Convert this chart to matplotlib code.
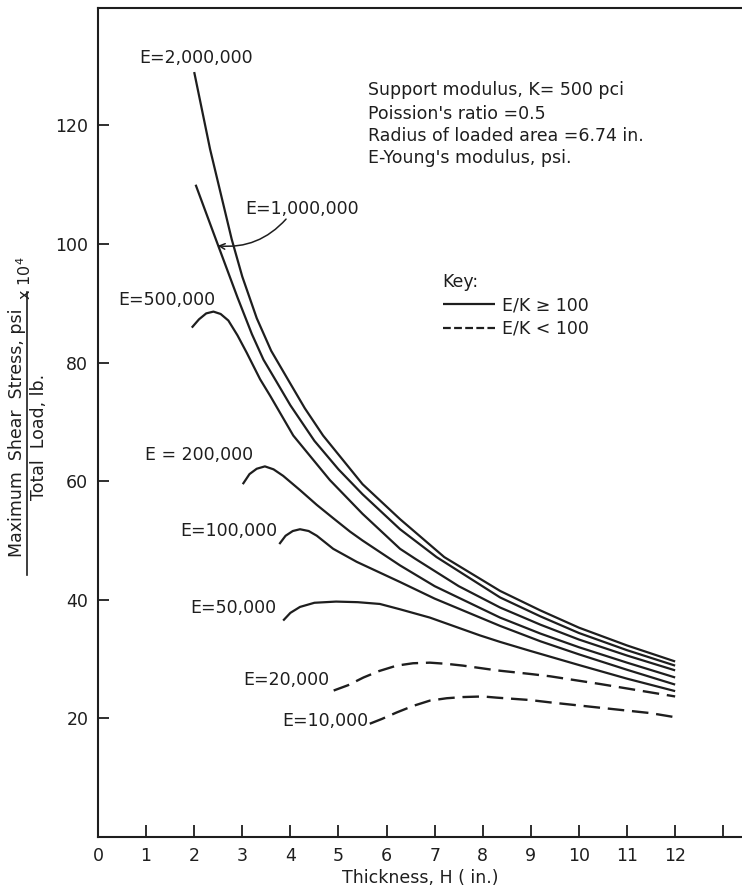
import matplotlib
matplotlib.use("Agg")
import matplotlib.pyplot as plt
from matplotlib.lines import Line2D

# ---------------- data ----------------
h_2m = [2.0, 2.33, 2.78, 3.0, 3.3, 3.6, 3.96, 4.3, 4.68, 5.5, 6.28, 7.2, 8.36, 9.2, 10.0, 11.0, 12.0]
s_2m = [129.0, 116.0, 100.8, 94.5, 87.5, 82.0, 77.0, 72.3, 67.7, 59.5, 53.6, 47.2, 41.5, 38.2, 35.3, 32.3, 29.6]

h_1m = [2.03, 2.45, 2.9, 3.2, 3.44, 3.71, 4.0, 4.5, 5.0, 5.5, 6.28, 7.04, 8.36, 9.2, 10.0, 11.0, 12.0]
s_1m = [110.0, 100.8, 91.0, 84.8, 80.5, 76.8, 72.8, 66.8, 62.0, 57.8, 51.9, 47.2, 40.4, 37.2, 34.4, 31.5, 28.9]

h_500k = [1.95, 2.1, 2.25, 2.4, 2.55, 2.71, 2.9, 3.09, 3.37, 3.58, 4.06, 4.82, 5.5, 6.28, 6.6, 7.5, 8.36, 9.2, 10.0, 11.0, 12.0]
s_500k = [85.9, 87.3, 88.3, 88.6, 88.2, 87.1, 84.6, 81.7, 77.2, 74.4, 67.7, 60.2, 54.5, 48.6, 46.9, 42.3, 38.7, 35.8, 33.3, 30.6, 28.1]

h_200k = [3.01, 3.15, 3.3, 3.47, 3.65, 3.85, 4.2, 4.55, 4.9, 5.24, 5.5, 6.28, 7.0, 8.36, 9.2, 10.0, 11.0, 12.0]
s_200k = [59.5, 61.2, 62.1, 62.5, 62.0, 60.9, 58.5, 56.0, 53.7, 51.5, 50.0, 45.8, 42.3, 37.0, 34.3, 32.0, 29.4, 26.9]

h_100k = [3.77, 3.9, 4.05, 4.2, 4.38, 4.55, 4.89, 5.38, 6.28, 7.0, 8.36, 9.2, 10.0, 11.0, 12.0]
s_100k = [49.4, 50.8, 51.6, 51.9, 51.6, 50.8, 48.6, 46.4, 43.0, 40.2, 35.6, 33.0, 30.8, 28.2, 25.7]

h_50k = [3.85, 4.0, 4.2, 4.5, 4.95, 5.4, 5.86, 6.28, 6.9, 7.94, 8.36, 8.98, 10.0, 11.0, 12.0]
s_50k = [36.5, 37.8, 38.8, 39.5, 39.7, 39.6, 39.3, 38.4, 37.0, 34.0, 32.9, 31.4, 29.0, 26.7, 24.6]

h_20k = [4.9, 5.2, 5.52, 5.85, 6.21, 6.55, 6.9, 7.25, 7.59, 8.29, 8.98, 9.4, 10.44, 11.48, 12.0]
s_20k = [24.7, 25.6, 26.9, 28.0, 28.9, 29.3, 29.4, 29.2, 28.9, 28.1, 27.5, 27.1, 25.8, 24.4, 23.7]

h_10k = [5.65, 5.9, 6.21, 6.55, 6.9, 7.25, 7.59, 8.0, 8.29, 8.98, 9.4, 10.44, 11.48, 12.0]
s_10k = [19.1, 19.9, 21.0, 22.1, 23.0, 23.4, 23.6, 23.7, 23.5, 23.1, 22.7, 21.8, 20.9, 20.2]

x_ticks = list(range(0, 14))
x_tick_labels = [str(v) for v in range(0, 13)] + [""]
y_ticks = [20, 40, 60, 80, 100, 120]

curve_labels = ["E=2,000,000", "E=1,000,000", "E=500,000", "E = 200,000",
                "E=100,000", "E=50,000", "E=20,000", "E=10,000"]
label_pos = [(2.03, 131.3), (4.24, 105.9), (1.43, 90.6), (2.10, 64.5),
             (2.71, 51.6), (2.82, 38.7), (3.92, 26.4), (4.73, 19.6)]

info_lines = ["Support modulus, K= 500 pci",
              "Poission's ratio =0.5",
              "Radius of loaded area =6.74 in.",
              "E-Young's modulus, psi."]
info_y = [126.0, 121.9, 118.2, 114.5]

# ---------------- drawing ----------------
plt.rcParams['font.family'] = ['DejaVu Sans']
ink = '#1e1e1e'
fig = plt.figure(figsize=(7.42, 8.88), dpi=100)
ax = fig.add_axes([98/742, 1-837/888, 1-98/742, (837-8)/888])

solid = dict(color=ink, lw=1.6, solid_capstyle='butt', solid_joinstyle='round')
dashed = dict(color=ink, lw=1.7, linestyle=(0, (7.0, 3.3)))

for h, s in [(h_2m, s_2m), (h_1m, s_1m), (h_500k, s_500k), (h_200k, s_200k),
             (h_100k, s_100k), (h_50k, s_50k)]:
    ax.plot(h, s, **solid)
ax.plot(h_20k, s_20k, **dashed)
ax.plot(h_10k, s_10k, **dashed)

fs = 12.5
for txt, (x, y) in zip(curve_labels, label_pos):
    ax.text(x, y, txt, ha='center', va='center', fontsize=fs, color=ink)

for txt, y in zip(info_lines, info_y):
    ax.text(5.61, y, txt, ha='left', va='center', fontsize=fs, color=ink)

ax.annotate("", xy=(2.49, 99.7), xytext=(3.91, 104.2),
            arrowprops=dict(arrowstyle='->', color=ink, lw=1.1,
                            connectionstyle='arc3,rad=-0.25',
                            shrinkA=0, shrinkB=0, mutation_scale=10))

handles = [Line2D([], [], **solid), Line2D([], [], color=ink, lw=1.6, linestyle=(0, (3.5, 1.5)))]
leg = ax.legend(handles, ["E/K \u2265 100", "E/K < 100"], title="Key:",
                loc='upper left', bbox_to_anchor=(0.535, 0.680), frameon=False,
                fontsize=fs, title_fontsize=fs, handlelength=3.0,
                handletextpad=0.4, labelspacing=0.3, borderpad=0,
                borderaxespad=0, alignment='left')
for t in leg.get_texts():
    t.set_color(ink)
leg.get_title().set_color(ink)

ax.set_xlim(0, 13.39)
ax.set_ylim(0, 139.8)
ax.set_xticks(x_ticks)
ax.set_xticklabels(x_tick_labels)
ax.set_yticks(y_ticks)
ax.set_yticklabels([str(v) for v in y_ticks])
ax.tick_params(direction='in', length=8, width=1.3, color=ink, labelsize=fs,
               labelcolor=ink, pad=7)
ax.tick_params(axis='x', length=9)
ax.spines['right'].set_visible(False)
for sp in ['left', 'bottom', 'top']:
    ax.spines[sp].set_linewidth(1.5)
    ax.spines[sp].set_color(ink)
ax.set_xlabel("Thickness, H ( in.)", fontsize=fs, color=ink, labelpad=3)

# y-axis label drawn as a fraction
fig.text(17/742, 1-433/888, "Maximum  Shear  Stress, psi", rotation=90,
         ha='center', va='center', fontsize=fs, color=ink)
fig.text(39/742, 1-437/888, "Total  Load, lb.", rotation=90,
         ha='center', va='center', fontsize=fs, color=ink)
fig.add_artist(Line2D([27/742, 27/742], [1-575/888, 1-292/888],
                      transform=fig.transFigure, color=ink, lw=1.2))
fig.text(25/742, 1-278/888, "x 10$^4$", rotation=90,
         ha='center', va='center', fontsize=fs-1, color=ink)

fig.savefig("out.png", dpi=100)
